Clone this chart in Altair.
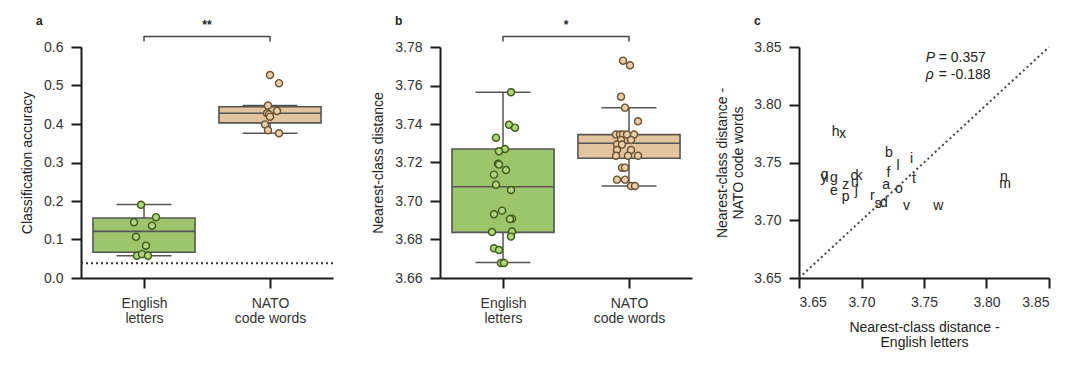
import altair as alt
import pandas as pd

FONT = "Liberation Sans"
groups = ["English letters", "NATO code words"]

# ---------------- panel a: classification accuracy ----------------
acc_eng = [0.190, 0.158, 0.145, 0.136, 0.107, 0.084, 0.058, 0.062, 0.058]
acc_eng_jit = [-3, 12, -10, 8, -8, 2, -7, -2, 4]
acc_nato = [0.527, 0.506, 0.448, 0.434, 0.428, 0.425, 0.419, 0.399, 0.384, 0.376]
acc_nato_jit = [0, 9, -2, 7, -3, -1, 0, -5, -2, 9]
acc_lo = [0.058, 0.376]
acc_q1 = [0.067, 0.403]
acc_med = [0.121, 0.428]
acc_q3 = [0.156, 0.445]
acc_hi = [0.191, 0.448]
acc_ticks = [0.0, 0.1, 0.2, 0.3, 0.4, 0.5, 0.6]
chance = [1 / 26]

# ---------------- panel b: nearest-class distance ----------------
dist_eng = [3.7565, 3.7396, 3.7381, 3.7329, 3.7270, 3.7258, 3.7194, 3.7189, 3.7161,
            3.7137, 3.7085, 3.7057, 3.6950, 3.6931, 3.6908, 3.6906, 3.6839, 3.6841,
            3.6815, 3.6754, 3.6745, 3.6678, 3.6678]
dist_eng_jit = [8, 6, 12, -7, 2, -4, -5, -4, 3, -9, -7, 8, -1, -9, 9, 7, -11, 9, 8, -9, -4, -2, 1]
dist_nato = [3.7729, 3.7705, 3.7542, 3.7485, 3.7414, 3.7345, 3.7345, 3.7345, 3.7345,
             3.7345, 3.7317, 3.7317, 3.7293, 3.7293, 3.7265, 3.7265, 3.7235, 3.7235,
             3.7235, 3.7173, 3.7173, 3.7111, 3.7111, 3.7078, 3.7078]
dist_nato_jit = [-6, 1, -8, -4, 9, -13, -9, -6, -2, 5, -8, 2, -12, -7, 2, -12, -13, -1, 9,
                 -7, -4, -12, -4, 2, 6]
dist_lo = [3.6680, 3.7078]
dist_q1 = [3.6837, 3.7222]
dist_med = [3.7074, 3.7300]
dist_q3 = [3.7270, 3.7345]
dist_hi = [3.7565, 3.7485]
dist_ticks = [3.66, 3.68, 3.70, 3.72, 3.74, 3.76, 3.78]

# ---------------- panel c: per-letter scatter ----------------
letters = ["h", "x", "b", "i", "l", "f", "t", "q", "y", "g", "e", "z", "p", "c", "k",
           "u", "j", "a", "o", "r", "s", "d", "v", "w", "n", "m"]
letter_eng = [3.6794, 3.6847, 3.7220, 3.7401, 3.7292, 3.7215, 3.7420, 3.6705, 3.6700,
              3.6780, 3.6780, 3.6874, 3.6874, 3.6940, 3.6980, 3.6948, 3.6958, 3.7198,
              3.7300, 3.7087, 3.7132, 3.7180, 3.7359, 3.7614, 3.8140, 3.8148]
letter_nato = [3.7763, 3.7743, 3.7584, 3.7526, 3.7468, 3.7405, 3.7359, 3.7395, 3.7368,
               3.7367, 3.7257, 3.7301, 3.7203, 3.7381, 3.7381, 3.7324, 3.7251, 3.7301,
               3.7272, 3.7214, 3.7142, 3.7151, 3.7121, 3.7121, 3.7373, 3.7315]
c_ticks = [3.65, 3.70, 3.75, 3.80, 3.85]
identity = [3.65, 3.85]
stat_sym = ["P", "ρ"]
stat_txt = ["= 0.357", "= -0.188"]
stat_x = [3.7514, 3.7514]
stat_y = [3.8408, 3.8254]

# ---------------- styles ----------------
BOX_FILL = ["#9dc56c", "#e2c49f"]
PT_FILL = ["#b3d47f", "#e8cfa9"]
PT_STROKE = ["#3f5c17", "#6d5233"]
WHISK = "#555555"
INK = "#222222"


def pick(colors):
    return f"datum.idx == 0 ? '{colors[0]}' : '{colors[1]}'"


def box_panel(v_eng, j_eng, v_nato, j_nato, lo, q1, med, q3, hi, ticks, fmt,
              ytitle, panel, stars, chance_vals=None):
    pts = pd.DataFrame({
        "idx": [0] * len(v_eng) + [1] * len(v_nato),
        "value": v_eng + v_nato,
        "jit": j_eng + j_nato,
    })
    stats = pd.DataFrame({"idx": [0, 1], "group": groups, "lo": lo, "q1": q1,
                          "med": med, "q3": q3, "hi": hi})
    xs = alt.Scale(domain=[-0.5, 1.5], nice=False, zero=False)
    ys = alt.Scale(domain=[ticks[0], ticks[-1]], nice=False, zero=False)
    xaxis = alt.Axis(values=[0, 1], title=None, labelLineHeight=15, labelPadding=8,
                     labelExpr="datum.value == 0 ? ['English', 'letters'] : ['NATO', 'code words']")
    yaxis = alt.Axis(values=ticks, format=fmt, title=ytitle, titlePadding=9)

    def X(f):
        return alt.X(f, scale=xs, axis=xaxis)

    def Y(f):
        return alt.Y(f, scale=ys, axis=yaxis)

    sb = alt.Chart(stats).transform_calculate(
        bl="datum.idx - 0.405", br="datum.idx + 0.405",
        cl="datum.idx - 0.218", cr="datum.idx + 0.218",
        fillc=pick(BOX_FILL))
    layers = []
    whisk = sb.mark_rule(color=WHISK, strokeWidth=1.5).encode(
        x=X("idx:Q"), y=Y("lo:Q"), y2="hi:Q")
    layers.append(whisk)
    if chance_vals is not None:
        layers.append(alt.Chart(pd.DataFrame({"c": chance_vals})).mark_rule(
            strokeDash=[2, 3], strokeWidth=2, color="#333333").encode(y=Y("c:Q")))
    box = sb.mark_rect(stroke=WHISK, strokeWidth=1.6).encode(
        x=X("bl:Q"), x2="br:Q", y=Y("q1:Q"), y2="q3:Q",
        fill=alt.Fill("fillc:N", scale=None))
    medr = sb.mark_rule(color=WHISK, strokeWidth=1.6).encode(
        x=X("bl:Q"), x2="br:Q", y=Y("med:Q"))
    caplo = sb.mark_rule(color=WHISK, strokeWidth=1.5).encode(
        x=X("cl:Q"), x2="cr:Q", y=Y("lo:Q"))
    caphi = sb.mark_rule(color=WHISK, strokeWidth=1.5).encode(
        x=X("cl:Q"), x2="cr:Q", y=Y("hi:Q"))
    points = alt.Chart(pts).transform_calculate(
        xj="datum.idx + datum.jit / 126",
        fc=pick(PT_FILL), sc=pick(PT_STROKE)).mark_circle(
        size=50, strokeWidth=1.4, opacity=1).encode(
        x=X("xj:Q"), y=Y("value:Q"),
        fill=alt.Fill("fc:N", scale=None),
        stroke=alt.Stroke("sc:N", scale=None))
    bracket = alt.Chart(pd.DataFrame({"a": [0], "b": [1]})).mark_rule(
        color="#444444", strokeWidth=1.5).encode(
        x=X("a:Q"), x2="b:Q", y=alt.value(-10.5))
    legs = alt.Chart(stats).mark_rule(color="#444444", strokeWidth=1.5).encode(
        x=X("idx:Q"), y=alt.value(-11), y2=alt.value(-5.5))
    star = alt.Chart(pd.DataFrame({"s": [stars], "m": [0.5]})).mark_text(
        fontSize=12, fontWeight="bold", font=FONT, color=INK).encode(
        x=X("m:Q"), y=alt.value(-22), text="s:N")
    lab = alt.Chart(pd.DataFrame({"t": [panel]})).mark_text(
        fontSize=12, fontWeight="bold", font=FONT, align="left", color=INK).encode(
        x=alt.value(-45), y=alt.value(-26.5), text="t:N")
    layers += [box, medr, caplo, caphi, points, bracket, legs, star, lab]
    return alt.layer(*layers).properties(width=252, height=231)


panel_a = box_panel(acc_eng, acc_eng_jit, acc_nato, acc_nato_jit, acc_lo, acc_q1,
                    acc_med, acc_q3, acc_hi, acc_ticks, ".1f",
                    "Classification accuracy", "a", "**", chance)
panel_b = box_panel(dist_eng, dist_eng_jit, dist_nato, dist_nato_jit, dist_lo, dist_q1,
                    dist_med, dist_q3, dist_hi, dist_ticks, ".2f",
                    "Nearest-class distance", "b", "*")

# panel c
cx = alt.Scale(domain=[3.65, 3.85], nice=False, zero=False)
cy = alt.Scale(domain=[3.65, 3.85], nice=False, zero=False)
cxaxis = alt.Axis(values=c_ticks, format=".2f", labelPadding=7,
                  title=["Nearest-class distance -", "English letters"], titlePadding=11,
                  titleLineHeight=15)
cyaxis = alt.Axis(values=c_ticks, format=".2f",
                  title=["Nearest-class distance -", "NATO code words"], titlePadding=8,
                  titleLineHeight=16)


def CX(f):
    return alt.X(f, scale=cx, axis=cxaxis)


def CY(f):
    return alt.Y(f, scale=cy, axis=cyaxis)


ldf = pd.DataFrame({"letter": letters, "eng": letter_eng, "nato": letter_nato})
diag = alt.Chart(pd.DataFrame({"u": identity, "v": identity})).mark_line(
    strokeDash=[2, 3], strokeWidth=2, color="#444444").encode(x=CX("u:Q"), y=CY("v:Q"))
txt = alt.Chart(ldf).mark_text(fontSize=14, font=FONT, color=INK).encode(
    x=CX("eng:Q"), y=CY("nato:Q"), text="letter:N")
sdf = pd.DataFrame({"sym": stat_sym, "txt": stat_txt, "x": stat_x, "y": stat_y})
sym = alt.Chart(sdf).mark_text(fontSize=14, font=FONT, fontStyle="italic", align="left",
                               color=INK).encode(x=CX("x:Q"), y=CY("y:Q"), text="sym:N")
rest = alt.Chart(sdf).mark_text(fontSize=14, font=FONT, align="left", dx=13,
                                color=INK).encode(x=CX("x:Q"), y=CY("y:Q"), text="txt:N")
clab = alt.Chart(pd.DataFrame({"t": ["c"]})).mark_text(
    fontSize=12, fontWeight="bold", font=FONT, align="left", color=INK).encode(
    x=alt.value(-45), y=alt.value(-26.5), text="t:N")
panel_c = alt.layer(diag, txt, sym, rest, clab).properties(width=250, height=231)

chart = alt.hconcat(panel_a, panel_b, panel_c, spacing=107, bounds="flush").properties(
    padding={"left": 20, "top": 14, "right": 5, "bottom": 5}
).configure_view(stroke=None).configure_axis(
    grid=False, labelFont=FONT, titleFont=FONT, labelFontSize=14, titleFontSize=14,
    titleFontWeight="normal", labelColor="#333333", titleColor=INK,
    domainColor="#1a1a1a", domainWidth=2, tickColor="#1a1a1a", tickWidth=2,
    tickSize=10, labelPadding=8
)

chart.save("out.html", embed_options={"renderer": "svg", "actions": False})
